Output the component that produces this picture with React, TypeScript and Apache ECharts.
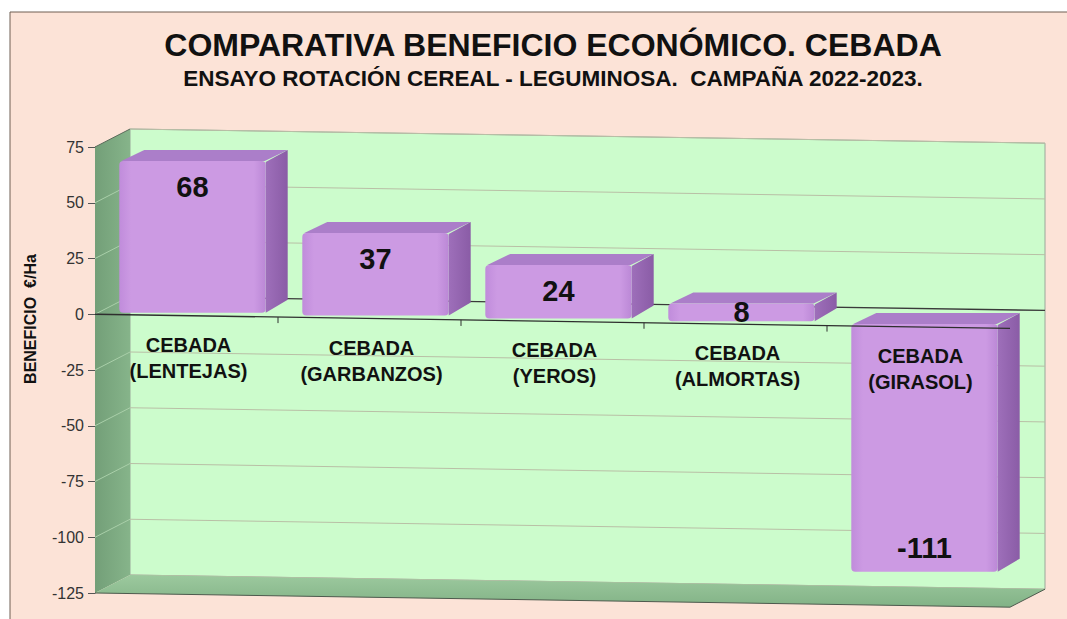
import React, { useEffect, useRef } from "react";
import * as echarts from "echarts";

// ---------- data ----------
const titleText = "COMPARATIVA BENEFICIO ECONÓMICO. CEBADA";
const subtitleText = "ENSAYO ROTACIÓN CEREAL - LEGUMINOSA.  CAMPAÑA 2022-2023.";
const yAxisName = "BENEFICIO  €/Ha";
const categories = [
  "CEBADA\n(LENTEJAS)",
  "CEBADA\n(GARBANZOS)",
  "CEBADA\n(YEROS)",
  "CEBADA\n(ALMORTAS)",
  "CEBADA\n(GIRASOL)",
];
const values = [68, 37, 24, 8, -111];
const yTicks = [-125, -100, -75, -50, -25, 0, 25, 50, 75];
const yMin = -125;
const yMax = 75;
const yInterval = 25;

// ---------- style / layout ----------
const FONT = "Arial, 'Liberation Sans', Helvetica, sans-serif";
const PEACH = "#fce3d7";
const WALL_BACK = "#ccfccc";
const SLOPE = 0.0155; // perspective drop per px to the right
const WALL_DX = 35;
const WALL_DY = -18;
const BAR_DX = 22;
const BAR_DY = -11;
const BAR_FRONT_DX = 6;
const BAR_FRONT_DY = -3;
const BAR_RATIO = 0.8;

export default function App() {
  const ref = useRef<HTMLDivElement>(null);

  useEffect(() => {
    const el = ref.current;
    if (!el) return;
    const chart = echarts.init(el, null, { renderer: "svg" });

    const wallsSeries = {
      type: "custom",
      z: 1,
      silent: true,
      clip: false,
      data: [[0, 0]],
      encode: { x: 0, y: 1 },
      renderItem: (params: any, api: any) => {
        const cs = params.coordSys;
        const x0 = cs.x;
        const x1 = cs.x + cs.width;
        const yT = cs.y;
        const yB = cs.y + cs.height;
        const sh = (x: number, y: number) => [x, y + SLOPE * (x - x0)];
        const bk = (x: number, y: number) => {
          const p = sh(x, y);
          return [p[0] + WALL_DX, p[1] + WALL_DY];
        };
        const children: any[] = [];
        children.push({
          type: "polygon",
          shape: { points: [bk(x0, yT), bk(x1, yT), bk(x1, yB), bk(x0, yB)] },
          style: { fill: WALL_BACK, stroke: "#9aa89a", lineWidth: 1 },
        });
        yTicks.forEach((t) => {
          const y = api.coord([0, t])[1];
          children.push({
            type: "polyline",
            shape: { points: [bk(x0, y), bk(x1, y)] },
            style: {
              fill: null,
              stroke: t === 0 ? "#3a3a3a" : "#b9bfa6",
              lineWidth: t === 0 ? 1.3 : 1,
            },
          });
        });
        children.push({
          type: "polygon",
          shape: { points: [sh(x0, yT), bk(x0, yT), bk(x0, yB), sh(x0, yB)] },
          style: {
            fill: {
              type: "linear",
              x: 0, y: 0, x2: 1, y2: 0,
              colorStops: [
                { offset: 0, color: "#739f78" },
                { offset: 1, color: "#86b48a" },
              ],
            },
          },
        });
        yTicks.forEach((t) => {
          if (t === yMin || t === yMax) return;
          const y = api.coord([0, t])[1];
          children.push({
            type: "polyline",
            shape: { points: [sh(x0, y), bk(x0, y)] },
            style: { fill: null, stroke: "#a9cfa9", lineWidth: 1 },
          });
        });
        children.push({
          type: "polygon",
          shape: { points: [sh(x0, yB), bk(x0, yB), bk(x1, yB), sh(x1, yB)] },
          style: {
            fill: {
              type: "linear",
              x: 0, y: 0, x2: 0, y2: 1,
              colorStops: [
                { offset: 0, color: "#9cc99e" },
                { offset: 1, color: "#82b286" },
              ],
            },
          },
        });
        children.push({
          type: "polyline",
          shape: { points: [sh(x0, yB), sh(x1, yB), bk(x1, yB)] },
          style: { fill: null, stroke: "#4d5a4d", lineWidth: 1 },
        });
        children.push({
          type: "polyline",
          shape: { points: [sh(x0, yT), bk(x0, yT)] },
          style: { fill: null, stroke: "#5b6b5b", lineWidth: 1 },
        });
        return { type: "group", children };
      },
    };

    const barsSeries = {
      type: "custom",
      z: 3,
      clip: false,
      data: values.map((v, i) => [i, v]),
      encode: { x: 0, y: 1 },
      renderItem: (params: any, api: any) => {
        const i = api.value(0);
        const v = api.value(1);
        const c = api.coord([i, v]);
        const c0 = api.coord([i, 0]);
        const bw = api.size([1, 0])[0] * BAR_RATIO;
        const xc = c[0] + BAR_FRONT_DX;
        const s = SLOPE * (xc - params.coordSys.x) + BAR_FRONT_DY;
        const xl = xc - bw / 2;
        const xr = xc + bw / 2;
        const yt = Math.min(c[1], c0[1]) + s;
        const yb = Math.max(c[1], c0[1]) + s;
        const labelY = v >= 0 ? Math.min(yt + 26, (yt + yb) / 2) : yb - 24;
        return {
          type: "group",
          children: [
            {
              type: "polygon",
              shape: {
                points: [
                  [xl + 2, yt],
                  [xr - 1, yt],
                  [xr + BAR_DX, yt + BAR_DY],
                  [xl + BAR_DX + 3, yt + BAR_DY],
                ],
              },
              style: { fill: "#ab7ec9" },
            },
            {
              type: "polygon",
              shape: {
                points: [
                  [xr, yt + 1],
                  [xr + BAR_DX, yt + BAR_DY],
                  [xr + BAR_DX, yb + BAR_DY - 2],
                  [xr, yb],
                ],
              },
              style: {
                fill: {
                  type: "linear",
                  x: 0, y: 0, x2: 1, y2: 0,
                  colorStops: [
                    { offset: 0, color: "#9e6fba" },
                    { offset: 1, color: "#8a5ca6" },
                  ],
                },
              },
            },
            {
              type: "rect",
              shape: { x: xl, y: yt, width: bw, height: yb - yt, r: 4 },
              style: {
                fill: {
                  type: "linear",
                  x: 0, y: 0, x2: 1, y2: 0,
                  colorStops: [
                    { offset: 0, color: "#c08cdb" },
                    { offset: 0.08, color: "#cc9ae3" },
                    { offset: 0.92, color: "#cc9ae3" },
                    { offset: 1, color: "#bb88d6" },
                  ],
                },
              },
            },
            {
              type: "text",
              style: {
                text: String(v),
                x: xc,
                y: labelY,
                align: "center",
                verticalAlign: "middle",
                textAlign: "center",
                textVerticalAlign: "middle",
                fill: "#111111",
                fontSize: 29,
                fontWeight: "bold",
                fontFamily: FONT,
              },
            },
          ],
        };
      },
    };

    const overlaySeries = {
      type: "custom",
      z: 5,
      silent: true,
      clip: false,
      data: [[0, 0]],
      encode: { x: 0, y: 1 },
      renderItem: (params: any, api: any) => {
        const cs = params.coordSys;
        const x0 = cs.x;
        const sh = (x: number, y: number) => [x, y + SLOPE * (x - x0)];
        const y0 = api.coord([0, 0])[1];
        const half = api.size([1, 0])[0] / 2;
        const children: any[] = [];
        children.push({
          type: "polyline",
          shape: { points: [sh(x0, y0), sh(x0 + cs.width, y0)] },
          style: { fill: null, stroke: "#2e2e2e", lineWidth: 1.3 },
        });
        categories.forEach((cat, i) => {
          const xc = api.coord([i, 0])[0];
          const b = xc + half;
          if (i < categories.length - 1) {
            const p = sh(b, y0);
            children.push({
              type: "polyline",
              shape: { points: [p, [p[0], p[1] + 6]] },
              style: { fill: null, stroke: "#2e2e2e", lineWidth: 1 },
            });
          }
          const q = sh(xc + 2, y0);
          children.push({
            type: "text",
            style: {
              text: cat,
              x: q[0],
              y: q[1] + 16,
              align: "center",
              verticalAlign: "top",
              textAlign: "center",
              textVerticalAlign: "top",
              lineHeight: 26,
              fill: "#111111",
              fontSize: 20,
              fontWeight: "bold",
              fontFamily: FONT,
            },
          });
        });
        return { type: "group", children };
      },
    };

    const option: any = {
      animation: false,
      backgroundColor: "#ffffff",
      textStyle: { fontFamily: FONT },
      graphic: [
        {
          type: "rect",
          z: -10,
          silent: true,
          shape: { x: 10, y: 12, width: 1100, height: 700 },
          style: { fill: PEACH, stroke: "#6e5e52", lineWidth: 1 },
        },
        {
          type: "text",
          z: 10,
          x: 30,
          y: 319,
          rotation: Math.PI / 2,
          style: {
            text: yAxisName,
            align: "center",
            verticalAlign: "middle",
            textAlign: "center",
            textVerticalAlign: "middle",
            fill: "#111111",
            fontSize: 16,
            fontWeight: "bold",
            fontFamily: FONT,
          },
        },
      ],
      title: {
        text: titleText,
        subtext: subtitleText,
        left: 548,
        textAlign: "center",
        top: 24,
        itemGap: 6,
        textStyle: { fontSize: 32, fontWeight: "bold", color: "#111111", fontFamily: FONT },
        subtextStyle: { fontSize: 22.5, fontWeight: "bold", color: "#111111", fontFamily: FONT },
      },
      grid: { left: 95, right: 57, top: 147, bottom: 26 },
      xAxis: {
        type: "category",
        data: categories,
        axisLine: { show: false },
        axisTick: { show: false },
        axisLabel: { show: false },
        splitLine: { show: false },
      },
      yAxis: {
        type: "value",
        min: yMin,
        max: yMax,
        interval: yInterval,
        axisLine: { show: true, lineStyle: { color: "#555555" } },
        axisTick: { show: true, length: 7, lineStyle: { color: "#555555" } },
        axisLabel: { margin: 11, fontSize: 16, color: "#333333", fontFamily: FONT },
        splitLine: { show: false },
      },
      series: [wallsSeries, barsSeries, overlaySeries],
    };

    chart.setOption(option);
    return () => chart.dispose();
  }, []);

  return (
    <div
      ref={ref}
      style={{ position: "fixed", left: 0, top: 0, width: 1067, height: 619, background: "#ffffff" }}
    />
  );
}
